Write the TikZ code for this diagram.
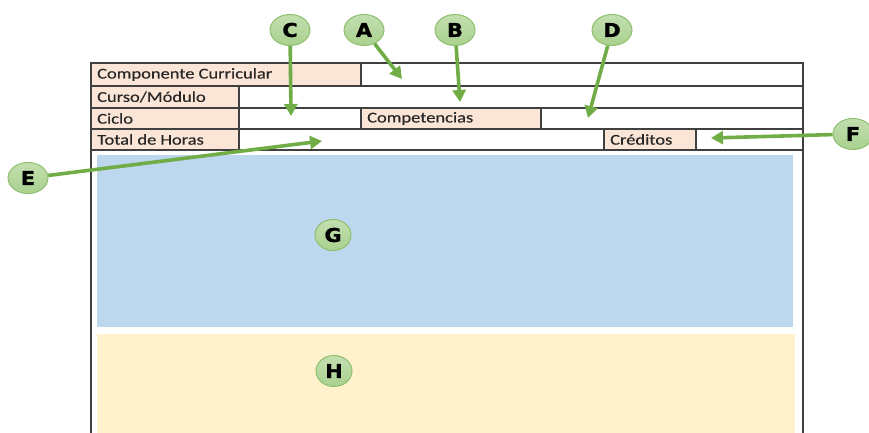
\documentclass[tikz,border=0pt]{standalone}
\usepackage{fontspec}
\setmainfont[FakeStretch=1.23,FakeBold=0.3]{Carlito}
\newfontfamily\lettfont[FakeStretch=1.1,FakeBold=1.2]{DejaVu Sans}
\usetikzlibrary{arrows.meta,shapes.geometric}
\definecolor{peach}{HTML}{FBE5D6}
\definecolor{lightblue}{HTML}{BDD7EE}
\definecolor{lightyellow}{HTML}{FFF2CC}
\definecolor{arrowgreen}{HTML}{70AD47}
\definecolor{badgefill}{HTML}{A9D18E}
\definecolor{badgeedge}{HTML}{8DBF6E}
\definecolor{linegray}{HTML}{404040}
\begin{document}
\begin{tikzpicture}[x=1pt,y=-1pt,
  cell/.style={draw=linegray, line width=1.1pt, inner sep=0pt, outer sep=0pt, anchor=north west},
  lbl/.style={anchor=west, inner sep=0pt, text=black!85, font=\fontsize{15}{17}\selectfont},
  area/.style={inner sep=0pt, outer sep=0pt, anchor=north west},
  badge/.style={ellipse, minimum width=40pt, minimum height=31pt, inner sep=0pt,
    top color=badgefill!70, bottom color=badgefill, draw=badgeedge, line width=1pt,
    font=\lettfont\bfseries\fontsize{19}{19}\selectfont},
  pointer/.style={draw=arrowgreen, line width=3.6pt, -{Triangle[length=12pt,width=13pt]}}
]
\useasboundingbox (0,0) rectangle (869,433);

% colored areas
\node[area, fill=lightblue, minimum width=696pt, minimum height=172pt] (gbox) at (97,155) {};
\node[area, fill=lightyellow, minimum width=698pt, minimum height=99pt] (hbox) at (97,334) {};

% outer frame below table
\draw[draw=linegray, line width=1.1pt] (91,150) -- (91,433);
\draw[draw=linegray, line width=1.1pt] (803,150) -- (803,433);

% row 1
\node[cell, fill=peach, minimum width=270pt, minimum height=23pt] (cc) at (91,63) {};
\node[cell, minimum width=442pt, minimum height=23pt] (ccv) at (361,63) {};
% row 2
\node[cell, fill=peach, minimum width=148pt, minimum height=22pt] (cm) at (91,86) {};
\node[cell, minimum width=564pt, minimum height=22pt] (cmv) at (239,86) {};
% row 3
\node[cell, fill=peach, minimum width=148pt, minimum height=21pt] (ci) at (91,108) {};
\node[cell, minimum width=122pt, minimum height=21pt] (civ) at (239,108) {};
\node[cell, fill=peach, minimum width=180pt, minimum height=21pt] (co) at (361,108) {};
\node[cell, minimum width=262pt, minimum height=21pt] (cov) at (541,108) {};
% row 4
\node[cell, fill=peach, minimum width=148pt, minimum height=21pt] (th) at (91,129) {};
\node[cell, minimum width=365pt, minimum height=21pt] (thv) at (239,129) {};
\node[cell, fill=peach, minimum width=92pt, minimum height=21pt] (cr) at (604,129) {};
\node[cell, minimum width=107pt, minimum height=21pt] (crv) at (696,129) {};

% labels
\node[lbl] (tcc) at ([xshift=6pt]cc.west) {Componente Curricular};
\node[lbl] (tcm) at ([xshift=6pt]cm.west) {Curso/Módulo};
\node[lbl] (tci) at ([xshift=6pt]ci.west) {Ciclo};
\node[lbl] (tco) at ([xshift=6pt]co.west) {Competencias};
\node[lbl] (tth) at ([xshift=6pt]th.west) {Total de Horas};
\node[lbl] (tcr) at ([xshift=6pt]cr.west) {Créditos};

% badges
\node[badge] (A) at (364,30) {A};
\node[badge] (B) at (455,30) {B};
\node[badge] (C) at (290,30) {C};
\node[badge] (D) at (612,30) {D};
\node[badge] (E) at (28,178) {E};
\node[badge] (F) at (853,134) {F};
\node[badge, minimum width=36pt, minimum height=31pt] (G) at (333,235) {G};
\node[badge, minimum width=36pt, minimum height=31pt] (H) at (334,371) {H};

% arrow targets
\coordinate (tA) at (402,79);
\coordinate (tB) at (460,102);
\coordinate (tC) at (291,116);
\coordinate (tD) at (588,118);
\coordinate (tE) at (322,141);
\coordinate (tF) at (711,138);

\draw[pointer] (A) -- (tA);
\draw[pointer] (B) -- (tB);
\draw[pointer] (C) -- (tC);
\draw[pointer] (D) -- (tD);
\draw[pointer] (E) -- (tE);
\draw[pointer] (F) -- (tF);
\end{tikzpicture}
\end{document}
